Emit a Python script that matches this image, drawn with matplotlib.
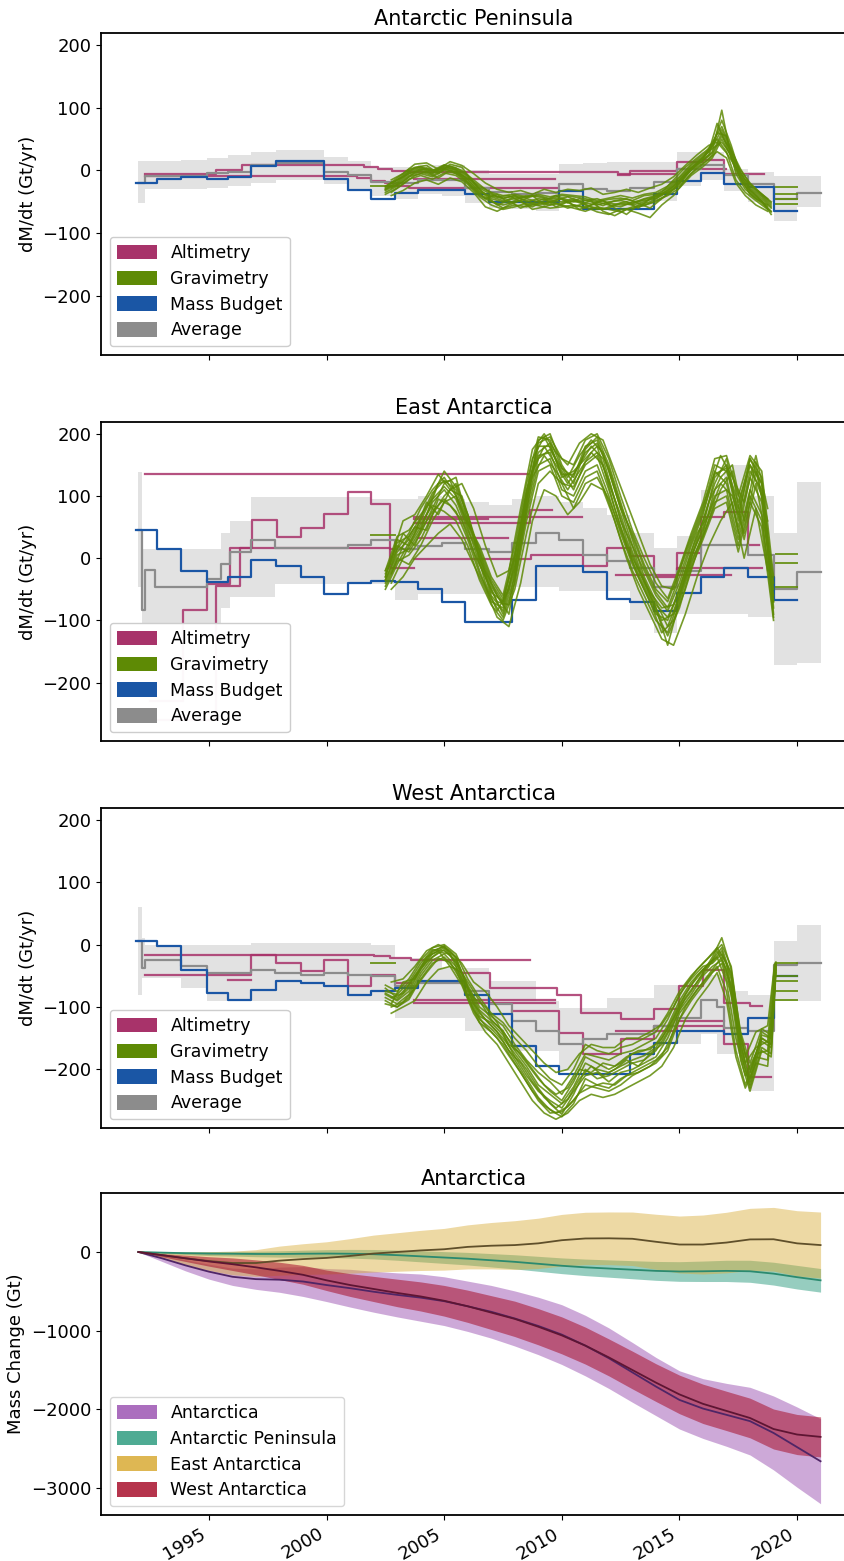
import numpy as np
import matplotlib
matplotlib.use("Agg")
import matplotlib.pyplot as plt
from matplotlib.patches import Patch

# ---------------------------------------------------------------- data
MB_T = [1991.9, 1992.8, 1993.8, 1994.9, 1995.8, 1996.8, 1997.85, 1998.9, 1999.9, 2000.9,
        2001.9, 2002.9, 2003.9, 2004.9, 2005.9, 2006.9, 2007.9, 2008.9, 2009.9, 2010.9,
        2011.9, 2012.9, 2013.9, 2014.9, 2015.9, 2016.9, 2017.9, 2019.0, 2020.0]
MB_AP = [-20, -13, -11, -13, -11, 7, 15, 15, -13, -31, -45, -36, -31, -31, -37, -50, -50, -50,
         -32, -62, -62, -62, -37, -16, -4, -21, -27, -64, -64]
MB_EA = [45, 14, -21, -39, -31, -3, -13, -31, -57, -40, -36, -39, -49, -71, -103, -103, -67,
         -12, -12, -23, -65, -71, -85, -56, -30, -15, -30, -67, -67]
MB_WA = [5, -3, -41, -77, -88, -72, -58, -61, -66, -80, -75, -70, -59, -59, -80, -112, -162,
         -194, -208, -208, -208, -176, -157, -139, -139, -144, -117, -51, -51]

# ---- Antarctic Peninsula (panel 1) ----
AVG_AP_T = [1992.0, 1992.3, 1993.8, 1994.9, 1995.8, 1996.8, 1997.85, 1999.9, 2000.9, 2001.9,
            2002.9, 2003.9, 2004.9, 2005.9, 2006.9, 2007.9, 2008.9, 2009.9, 2010.9, 2011.9,
            2012.9, 2013.9, 2014.9, 2015.9, 2016.9, 2017.9, 2019.0, 2020.0, 2021.0]
AVG_AP = [-20, -9, -9, -4, -2, 8, 12, -2, -8, -18, -20, -15, -15, -28, -35, -38, -36, -22, -30,
          -32, -28, -18, 2, 8, -8, -22, -45, -36, -36]
AVG_AP_HI = [15, 15, 17, 20, 25, 30, 32, 22, 15, 5, 5, 8, 8, 0, -5, -5, -5, 10, 12, 14, 14, 14,
             30, 30, 2, -2, -9, -9, -9]
AVG_AP_LO = [-52, -30, -30, -28, -25, -20, -15, -22, -30, -40, -45, -38, -40, -52, -60, -62,
             -65, -52, -60, -60, -58, -48, -25, -15, -32, -50, -81, -59, -59]

ALT_AP = [
    ([1992.3, 1995.3, 1996.4, 2001.6, 2002.2, 2002.8, 2003.5, 2012.4, 2014.9, 2016.0, 2016.9, 2018.6],
     [-6, 1, 8, 5, 2, -1, -3, -5, 13, 17, -6, -6]),
    ([1992.3, 2001.3, 2001.9, 2002.5, 2003.0, 2003.5, 2009.8],
     [-9, -12, -16, -20, -24, -28, -28]),
    ([2003.7, 2009.7], [-13, -13]),
    ([2012.4, 2012.9, 2014.9, 2017.0], [-8, -1, 3, 3]),
]

GRAV_T_AP = [2002.5, 2003.0, 2003.5, 2004.0, 2004.5, 2005.0, 2005.5, 2006.0, 2006.5, 2007.0,
             2007.5, 2008.0, 2008.5, 2009.0, 2009.5, 2010.0, 2010.5, 2011.0, 2011.5, 2012.0,
             2012.5, 2013.0, 2013.5, 2014.0, 2014.5, 2015.0, 2015.5, 2016.0, 2016.4, 2016.8,
             2017.2, 2017.6, 2018.0, 2018.5, 2018.9]
GRAV_AP = [
    [-30, -20, -5, 0, -5, 5, 0, -15, -35, -40, -45, -40, -50, -45, -48, -50, -45, -52, -55, -50,
     -48, -52, -45, -40, -35, -20, 0, 15, 30, 96, 20, -10, -30, -45, -60],
    [-28, -15, 0, 5, -2, 8, 2, -10, -30, -45, -50, -42, -48, -55, -50, -45, -55, -60, -50, -55,
     -58, -50, -48, -45, -30, -15, 5, 20, 45, 70, 35, -5, -25, -40, -55],
    [-35, -25, -10, -5, -10, 0, -5, -20, -40, -50, -55, -50, -45, -50, -55, -52, -48, -55, -62, -60,
     -52, -55, -50, -42, -35, -25, -5, 10, 25, 55, 30, -15, -35, -50, -65],
    [-25, -15, -5, 2, 0, 3, -3, -12, -25, -35, -40, -38, -42, -40, -45, -40, -42, -45, -50, -46,
     -44, -48, -40, -38, -28, -12, 8, 22, 35, 45, 25, 0, -20, -38, -50],
    [-32, -22, -8, -2, -8, 2, -2, -18, -38, -48, -60, -55, -58, -52, -50, -55, -60, -65, -58, -62,
     -66, -58, -55, -50, -38, -22, 2, 18, 40, 80, 40, -8, -32, -48, -70],
    [-30, -18, -2, 3, -4, 6, 1, -14, -33, -42, -48, -45, -40, -42, -46, -44, -50, -48, -45, -52,
     -55, -53, -46, -42, -32, -18, 4, 16, 28, 60, 28, -4, -28, -42, -58],
    [-38, -28, -14, -8, -14, -4, -8, -22, -42, -55, -62, -58, -52, -56, -60, -58, -55, -58, -66, -70,
     -62, -60, -56, -48, -40, -28, -8, 6, 20, 50, 22, -12, -38, -52, -66],
    [-26, -12, 2, 6, 0, 9, 4, -8, -28, -38, -44, -40, -44, -38, -42, -38, -40, -42, -48, -44,
     -40, -44, -38, -35, -25, -10, 10, 25, 38, 65, 32, 2, -22, -38, -52],
]
GRAV_T_AP_B = [2002.75, 2003.25, 2003.75, 2004.25, 2004.75, 2005.25, 2005.75, 2006.25, 2006.75,
               2007.25, 2007.75, 2008.25, 2008.75, 2009.25, 2009.75, 2010.25, 2010.75, 2011.25,
               2011.75, 2012.25, 2012.75, 2013.25, 2013.75, 2014.25, 2014.75, 2015.25, 2015.75,
               2016.25, 2016.6, 2017.0, 2017.4, 2017.8, 2018.25, 2018.75]
GRAV_AP_B = [
    [-20, -10, 5, 8, -5, 10, 5, -20, -40, -55, -48, -60, -52, -45, -58, -50, -62, -55, -48, -60,
     -70, -55, -50, -40, -25, -5, 12, 30, 75, 40, 0, -25, -40, -58],
    [-35, -22, -8, -2, -12, 0, -10, -28, -45, -38, -52, -44, -40, -55, -47, -42, -50, -58, -62, -54,
     -50, -60, -45, -35, -15, 5, 20, 35, 50, 30, -15, -35, -48, -62],
    [-28, -18, -3, 4, -2, 7, 0, -15, -30, -42, -40, -50, -58, -48, -40, -52, -45, -50, -56, -48,
     -45, -52, -60, -45, -30, -8, 10, 25, 60, 55, -5, -30, -45, -55],
    [-40, -32, -20, -15, -22, -12, -18, -35, -58, -65, -55, -48, -62, -58, -52, -60, -55, -48, -65,
     -72, -62, -68, -75, -55, -40, -15, 5, 18, 30, 20, -20, -40, -55, -65],
    [-15, -5, 10, 12, 2, 14, 8, -5, -20, -30, -35, -32, -38, -30, -35, -30, -32, -28, -38, -35,
     -30, -35, -28, -22, -10, 8, 25, 40, 45, 28, 5, -15, -30, -45],
]
GRAV_PRE_AP = [-24]
GRAV_FO_AP = [-27, -37, -45, -53]

# ---- East Antarctica (panel 2) ----
AVG_EA_T = [1992.0, 1992.15, 1992.3, 1992.7, 1994.9, 1995.5, 1995.9, 1996.8, 1997.8, 2000.9,
            2001.9, 2002.9, 2003.9, 2004.9, 2005.9, 2006.9, 2007.9, 2008.9, 2009.9, 2010.9,
            2011.9, 2012.9, 2013.9, 2014.9, 2015.9, 2016.9, 2017.9, 2019.0, 2020.0, 2021.0]
AVG_EA = [45, -84, -19, -46, -33, -10, 10, 30, 17, 22, 30, 15, 20, 25, 15, 10, 25, 41, 30, 5,
          -5, -15, -47, -20, 22, 22, 5, -49, -22, -22]
AVG_EA_HI = [139, 15, 15, 15, 15, 40, 60, 99, 99, 99, 95, 95, 100, 95, 90, 85, 95, 100, 90, 80,
             70, 40, 17, 35, 110, 150, 100, 40, 123, 123]
AVG_EA_LO = [-47, -105, -105, -105, -105, -80, -63, -63, -41, -41, -41, -68, -57, -57, -57, -57,
             -47, -47, -52, -52, -52, -100, -121, -90, -90, -90, -95, -171, -168, -168]

ALT_EA = [
    ([1992.3, 2008.55], [136, 136]),
    ([1992.5, 1993.9, 1994.9, 1995.9, 1996.85, 1997.9, 1998.9, 1999.9, 2000.9, 2001.9, 2002.7, 2003.7],
     [-230, -84, -41, 17, 62, 34, 49, 71, 106, 87, -15, -15]),
    ([1992.5, 1995.3, 1996.3, 2002.7, 2003.7], [-260, -45, 17, 14, 14]),
    ([2003.7, 2010.85], [67, 67]),
    ([2003.7, 2006.85], [63, 63]),
    ([2003.7, 2008.65, 2009.6], [57, 78, 78]),
    ([2003.9, 2007.7], [32, 32]),
    ([2003.7, 2008.7, 2009.6, 2010.9, 2011.9, 2012.9, 2013.9, 2014.9, 2015.9, 2016.9, 2017.9, 2018.4],
     [-2, 5, 5, -12, 17, 4, -31, 9, 67, 75, 21, 21]),
    ([2012.3, 2017.2], [-27, -27]),
    ([2013.9, 2014.9, 2018.5], [-47, -15, -15]),
]

GRAV_T_EA = [2002.5, 2003.0, 2003.5, 2004.0, 2004.5, 2005.0, 2005.5, 2006.0, 2006.5, 2007.0,
             2007.5, 2008.0, 2008.5, 2009.0, 2009.5, 2010.0, 2010.5, 2011.0, 2011.5, 2012.0,
             2012.5, 2013.0, 2013.5, 2014.0, 2014.5, 2015.0, 2015.5, 2016.0, 2016.5, 2017.0,
             2017.5, 2018.0, 2018.5, 2019.0]
GRAV_EA = [
    [-35, 10, 30, 60, 100, 140, 115, 70, 0, -60, -85, -20, 90, 190, 200, 150, 120, 175, 195, 150,
     90, 30, -30, -70, -110, -60, 0, 50, 130, 150, 60, 160, 120, -90],
    [-20, 20, 10, 40, 80, 120, 130, 60, 10, -40, -70, 10, 110, 170, 185, 130, 140, 160, 180, 120,
     70, 10, -40, -80, -140, -70, -10, 40, 110, 130, 40, 130, 90, -70],
    [-40, 0, -10, 20, 60, 90, 100, 50, -10, -50, -90, -30, 70, 150, 160, 110, 100, 140, 150, 100,
     40, -10, -50, -90, -100, -50, 10, 60, 120, 160, 70, 150, 100, -60],
    [-30, 30, 20, 50, 90, 110, 85, 40, -20, -70, -80, -10, 80, 160, 175, 140, 110, 155, 170, 125,
     60, 20, -20, -60, -85, -40, 20, 70, 140, 120, 50, 140, 110, -50],
    [-25, 15, 40, 80, 110, 130, 100, 55, 20, -30, -60, 20, 120, 195, 190, 145, 130, 180, 190, 140,
     80, 40, -10, -50, -70, -20, 30, 80, 150, 140, 80, 160, 130, -80],
    [-45, -5, 5, 30, 70, 100, 120, 70, 0, -45, -75, -15, 100, 165, 170, 120, 115, 150, 165, 110,
     50, 0, -35, -75, -95, -55, 5, 45, 100, 110, 30, 110, 70, -95],
    [-35, 5, 15, 45, 75, 95, 75, 30, -25, -65, -95, -40, 60, 140, 150, 100, 90, 130, 140, 90,
     30, -20, -60, -100, -120, -65, -5, 35, 90, 100, 20, 100, 60, -70],
    [-30, 25, 35, 65, 105, 125, 110, 60, 15, -35, -65, 5, 95, 180, 180, 135, 135, 170, 185, 145,
     85, 35, -15, -55, -80, -30, 25, 75, 135, 145, 90, 150, 120, -40],
    [-50, -10, 25, 55, 85, 75, 60, 20, -35, -75, -100, -50, 40, 120, 140, 120, 80, 120, 130, 95,
     45, -5, -45, -85, -125, -80, -15, 30, 80, 90, 10, 90, 50, -100],
    [-20, 35, 45, 70, 95, 115, 95, 45, 5, -55, -70, 0, 105, 185, 195, 160, 150, 190, 200, 160,
     100, 45, 0, -40, -65, -15, 40, 90, 160, 165, 100, 165, 140, -30],
]
GRAV_T_EA_B = [2002.75, 2003.25, 2003.75, 2004.25, 2004.75, 2005.25, 2005.75, 2006.25, 2006.75,
               2007.25, 2007.75, 2008.25, 2008.75, 2009.25, 2009.75, 2010.25, 2010.75, 2011.25,
               2011.75, 2012.25, 2012.75, 2013.25, 2013.75, 2014.25, 2014.75, 2015.25, 2015.75,
               2016.25, 2016.75, 2017.25, 2017.75, 2018.25, 2018.75]
GRAV_EA_B = [
    [-10, 40, 20, 70, 120, 125, 80, 30, -40, -85, -50, 50, 160, 195, 160, 130, 165, 190, 170, 110,
     50, -10, -60, -100, -90, -30, 30, 90, 130, 150, 60, 155, 40],
    [-40, 0, 40, 90, 70, 110, 100, 40, -20, -60, -90, 20, 130, 165, 140, 110, 140, 170, 150, 80,
     20, -30, -70, -120, -100, -50, 10, 60, 110, 140, 30, 120, 20],
    [-25, 20, 50, 45, 95, 85, 60, 10, -30, -70, -75, 30, 140, 180, 150, 120, 150, 180, 160, 95,
     30, -20, -55, -80, -75, -20, 40, 70, 120, 100, 40, 140, 60],
    [-50, -30, 0, 20, 40, 55, 30, -10, -50, -95, -110, -40, 60, 110, 100, 70, 90, 120, 110, 60,
     0, -50, -90, -130, -140, -90, -30, 20, 60, 90, 0, 80, -20],
    [0, 60, 70, 100, 135, 110, 120, 80, 20, -30, -20, 80, 175, 200, 170, 150, 185, 200, 190, 140,
     90, 40, -10, -45, -50, 10, 60, 110, 165, 130, 90, 165, 80],
]
GRAV_PRE_EA = [38]
GRAV_FO_EA = [6, -7, -47]

# ---- West Antarctica (panel 3) ----
AVG_WA_T = [1992.0, 1992.15, 1992.3, 1993.8, 1994.9, 1996.8, 1997.8, 1998.9, 1999.9, 2000.9,
            2001.9, 2002.9, 2003.9, 2004.9, 2005.9, 2006.9, 2007.9, 2008.9, 2009.9, 2010.9,
            2011.9, 2012.9, 2013.9, 2014.9, 2015.9, 2016.6, 2016.9, 2017.9, 2019.0, 2020.0, 2021.0]
AVG_WA = [5, -37, -25, -34, -45, -40, -45, -48, -45, -48, -50, -66, -61, -61, -74, -96, -122,
          -138, -159, -151, -143, -143, -130, -117, -88, -100, -133, -138, -32, -29, -29]
AVG_WA_HI = [61, 11, 0, 0, 0, 3, 3, 3, 3, 3, 0, -21, -21, -37, -37, -58, -58, -90, -101, -101,
             -85, -85, -64, -64, -48, -48, -75, -80, 5, 32, 32]
AVG_WA_LO = [-80, -53, -53, -69, -90, -90, -90, -90, -90, -90, -90, -117, -117, -117, -138, -138,
             -170, -170, -202, -202, -195, -186, -159, -159, -143, -175, -175, -234, -90, -90, -90]

ALT_WA = [
    ([1992.3, 2001.3, 2002.0, 2002.7, 2003.6, 2008.65], [-16, -16, -19, -22, -25, -25]),
    ([1992.3, 1996.8, 1997.85, 1998.9, 1999.9, 2000.9, 2001.9, 2002.9, 2003.6],
     [-48, -17, -29, -43, -24, -66, -48, -61, -61]),
    ([1995.8, 1996.8], [-57, -57]),
    ([2003.7, 2009.7], [-88, -88]),
    ([2003.7, 2009.7], [-93, -93]),
    ([2005.8, 2006.95, 2009.8, 2010.8, 2012.5, 2013.9, 2015.0, 2016.0, 2016.9, 2018.0, 2018.5],
     [-45, -70, -80, -109, -119, -103, -67, -40, -93, -99, -99]),
    ([2007.9, 2009.9, 2010.9, 2012.5, 2013.9, 2016.9, 2017.9, 2018.9],
     [-107, -141, -176, -152, -130, -160, -213, -213]),
    ([2012.3, 2014.9, 2016.9], [-139, -122, -122]),
]

GRAV_T_WA = [2002.5, 2003.0, 2003.5, 2004.0, 2004.5, 2005.0, 2005.5, 2006.0, 2006.5, 2007.0,
             2007.5, 2008.0, 2008.5, 2009.0, 2009.5, 2010.0, 2010.5, 2011.0, 2011.5, 2012.0,
             2012.5, 2013.0, 2013.5, 2014.0, 2014.5, 2015.0, 2015.5, 2016.0, 2016.4, 2016.8,
             2017.2, 2017.6, 2018.0, 2018.5, 2018.9, 2019.1]
GRAV_WA = [
    [-80, -90, -75, -40, -15, -5, -20, -70, -110, -130, -150, -175, -200, -230, -255, -272, -240,
     -200, -215, -210, -200, -190, -185, -170, -140, -100, -75, -45, -20, 11, -40, -150, -200,
     -150, -160, -30],
    [-70, -85, -65, -35, -10, -3, -30, -60, -90, -120, -140, -165, -190, -215, -235, -250, -220,
     -180, -190, -200, -190, -175, -170, -160, -130, -90, -60, -40, -25, -5, -50, -160, -215,
     -140, -150, -32],
    [-90, -100, -85, -50, -25, -15, -35, -80, -120, -135, -155, -185, -215, -245, -265, -276, -255,
     -215, -225, -230, -215, -205, -195, -185, -165, -110, -85, -60, -40, -20, -65, -170, -230,
     -165, -175, -35],
    [-75, -80, -60, -30, -8, -10, -25, -65, -100, -115, -130, -160, -185, -205, -220, -240, -210,
     -175, -180, -185, -175, -170, -160, -150, -120, -80, -55, -35, -30, -15, -45, -140, -190,
     -135, -145, -30],
    [-85, -95, -80, -45, -20, -8, -28, -75, -115, -125, -145, -180, -210, -235, -250, -262, -235,
     -210, -205, -220, -205, -200, -190, -180, -150, -105, -80, -50, -35, -25, -70, -175, -225,
     -155, -165, -40],
    [-65, -75, -55, -25, -5, 0, -15, -55, -85, -110, -125, -150, -170, -195, -215, -225, -200,
     -160, -170, -175, -165, -160, -150, -140, -110, -75, -50, -30, -15, 0, -35, -145, -205,
     -145, -150, -28],
    [-95, -100, -88, -55, -30, -20, -40, -85, -125, -140, -160, -190, -220, -250, -270, -268, -250,
     -225, -230, -235, -225, -210, -200, -190, -170, -120, -90, -65, -45, -30, -80, -185, -235,
     -170, -180, -45],
    [-78, -88, -70, -38, -12, -2, -22, -68, -105, -122, -138, -170, -195, -225, -240, -255, -228,
     -190, -200, -205, -195, -185, -178, -165, -135, -95, -65, -42, -28, -10, -55, -165, -220,
     -150, -160, -35],
]
GRAV_T_WA_B = [2002.75, 2003.25, 2003.75, 2004.25, 2004.75, 2005.25, 2005.75, 2006.25, 2006.75,
               2007.25, 2007.75, 2008.25, 2008.75, 2009.25, 2009.75, 2010.25, 2010.75, 2011.25,
               2011.75, 2012.25, 2012.75, 2013.25, 2013.75, 2014.25, 2014.75, 2015.25, 2015.75,
               2016.25, 2016.6, 2017.0, 2017.4, 2017.8, 2018.25, 2018.75, 2019.05]
GRAV_WA_B = [
    [-95, -60, -55, -20, -10, -35, -45, -95, -120, -140, -170, -190, -220, -245, -262, -248, -215,
     -195, -210, -200, -185, -195, -175, -160, -125, -85, -60, -35, -10, -40, -120, -190, -165,
     -155, -32],
    [-85, -78, -50, -28, -12, -15, -55, -85, -100, -125, -160, -175, -200, -225, -240, -230, -200,
     -205, -190, -195, -180, -170, -168, -150, -118, -80, -50, -30, -20, -60, -150, -210, -175,
     -170, -50],
    [-100, -92, -70, -45, -22, -28, -60, -105, -130, -150, -178, -205, -235, -258, -270, -260, -238,
     -228, -222, -225, -210, -205, -195, -178, -140, -100, -72, -50, -35, -75, -170, -225, -180,
     -185, -60],
    [-60, -55, -35, -10, 0, -10, -30, -60, -75, -100, -130, -150, -170, -190, -205, -200, -175,
     -160, -165, -165, -150, -150, -140, -128, -100, -65, -40, -20, -5, -30, -110, -180, -140,
     -130, -30],
    [-110, -100, -90, -60, -40, -35, -65, -110, -140, -160, -190, -220, -250, -270, -280, -270,
     -250, -240, -245, -240, -230, -220, -210, -195, -165, -120, -90, -65, -45, -90, -180, -230,
     -190, -195, -70],
]
GRAV_PRE_WA = [-29]
GRAV_FO_WA = [-30, -50, -59, -75, -88]

# ---- Antarctica cumulative (panel 4) ----
YEARS = [1992, 1993, 1994, 1995, 1996, 1997, 1998, 1999, 2000, 2001, 2002, 2003, 2004, 2005,
         2006, 2007, 2008, 2009, 2010, 2011, 2012, 2013, 2014, 2015, 2016, 2017, 2018, 2019,
         2020, 2021]
AIS = [0, -80, -170, -250, -315, -345, -352, -375, -420, -460, -505, -545, -580, -625, -690, -760,
       -845, -940, -1050, -1190, -1350, -1530, -1710, -1880, -1990, -2070, -2150, -2300, -2480, -2660]
AIS_ERR = [0, 40, 70, 95, 110, 130, 160, 190, 210, 240, 260, 280, 300, 310, 320, 335, 350, 365,
           380, 385, 385, 380, 370, 370, 380, 400, 430, 470, 510, 540]
APIS = [0, -8, -15, -20, -22, -25, -25, -22, -20, -22, -28, -40, -55, -70, -85, -105, -125, -150,
        -175, -195, -210, -225, -240, -248, -245, -240, -245, -275, -320, -360]
APIS_ERR = [0, 10, 18, 25, 30, 35, 40, 45, 50, 55, 60, 65, 70, 75, 80, 85, 90, 95, 100, 105, 110,
            115, 120, 125, 130, 135, 140, 145, 150, 150]
EAIS = [0, -40, -80, -115, -140, -140, -110, -90, -75, -50, -20, 0, 20, 35, 65, 80, 88, 110, 150,
        172, 174, 168, 130, 95, 95, 120, 160, 162, 110, 88]
EAIS_ERR = [0, 40, 80, 120, 150, 170, 185, 195, 205, 220, 235, 245, 255, 265, 280, 295, 310, 320,
            328, 333, 335, 340, 350, 362, 375, 385, 395, 405, 415, 420]
WAIS = [0, -40, -80, -120, -155, -195, -240, -290, -360, -420, -470, -520, -565, -620, -690, -770,
        -850, -950, -1060, -1190, -1340, -1500, -1660, -1810, -1930, -2020, -2110, -2250, -2320, -2350]
WAIS_ERR = [0, 20, 40, 60, 80, 95, 110, 120, 130, 145, 160, 175, 185, 195, 205, 215, 225, 230,
            235, 235, 235, 240, 240, 245, 250, 250, 252, 254, 255, 255]

XTICKS = [1995, 2000, 2005, 2010, 2015, 2020]

# ---------------------------------------------------------------- style
C_ALT = "#a8336a"
C_GRAV = "#5e8a05"
C_MB = "#1a56a5"
C_AVG = "#8c8c8c"
C_BAND = "#dddddd"

plt.rcParams["font.family"] = ["DejaVu Sans"]
plt.rcParams["font.size"] = 13

fig = plt.figure(figsize=(8.45, 15.61), dpi=100)
H = 1561.0
LEFT = 101 / 845.0
WIDTH = 1.002 - LEFT


def box(top, bottom):
    return [LEFT, 1 - bottom / H, WIDTH, (bottom - top) / H]


ax1 = fig.add_axes(box(33, 355))
ax2 = fig.add_axes(box(422, 741), sharex=ax1)
ax3 = fig.add_axes(box(808, 1128), sharex=ax1)
ax4 = fig.add_axes(box(1193, 1515), sharex=ax1)

XLIM = (1990.41, 2022.11)


def draw_rate_panel(ax, title, avg_t, avg, hi, lo, alts, mb, grav_sets, pre, fo):
    ax.fill_between(avg_t, lo, hi, step="post", color=C_BAND, alpha=0.85, lw=0, zorder=1)
    ax.plot(avg_t, avg, drawstyle="steps-post", color=C_AVG, lw=1.6, zorder=3)
    for t, v in alts:
        ax.plot(t, v, drawstyle="steps-post", color=C_ALT, lw=1.6, alpha=0.85, zorder=2)
    ax.plot(MB_T, mb, drawstyle="steps-post", color=C_MB, lw=1.6, zorder=3)
    for grav_t, gravs in grav_sets:
        for g in gravs:
            ax.plot(grav_t, g, color=C_GRAV, lw=1.2, alpha=0.85, zorder=4)
    for v in pre:
        ax.plot([2001.9, 2002.9], [v, v], color=C_GRAV, lw=1.4, alpha=0.85, zorder=4)
    for v in fo:
        ax.plot([2019.1, 2020.0], [v, v], color=C_GRAV, lw=1.4, alpha=0.85, zorder=4)
    ax.set_ylim(-294, 219)
    ax.set_yticks([-200, -100, 0, 100, 200])
    ax.set_ylabel("dM/dt (Gt/yr)")
    ax.set_title(title, fontsize=15)
    handles = [Patch(facecolor=C_ALT, label="Altimetry"),
               Patch(facecolor=C_GRAV, label="Gravimetry"),
               Patch(facecolor=C_MB, label="Mass Budget"),
               Patch(facecolor=C_AVG, label="Average")]
    leg = ax.legend(handles=handles, loc="lower left", fontsize=12.5, framealpha=0.97,
                    handlelength=2.3, handleheight=0.9, labelspacing=0.45)
    leg.set_zorder(10)


draw_rate_panel(ax1, "Antarctic Peninsula", AVG_AP_T, AVG_AP, AVG_AP_HI, AVG_AP_LO, ALT_AP,
                MB_AP, [(GRAV_T_AP, GRAV_AP), (GRAV_T_AP_B, GRAV_AP_B)], GRAV_PRE_AP, GRAV_FO_AP)
draw_rate_panel(ax2, "East Antarctica", AVG_EA_T, AVG_EA, AVG_EA_HI, AVG_EA_LO, ALT_EA,
                MB_EA, [(GRAV_T_EA, GRAV_EA), (GRAV_T_EA_B, GRAV_EA_B)], GRAV_PRE_EA, GRAV_FO_EA)
draw_rate_panel(ax3, "West Antarctica", AVG_WA_T, AVG_WA, AVG_WA_HI, AVG_WA_LO, ALT_WA,
                MB_WA, [(GRAV_T_WA, GRAV_WA), (GRAV_T_WA_B, GRAV_WA_B)], GRAV_PRE_WA, GRAV_FO_WA)

# ---- cumulative panel
regions = [
    ("Antarctica", AIS, AIS_ERR, "#9d55b3", 0.5, "#4f2566"),
    ("Antarctic Peninsula", APIS, APIS_ERR, "#2f9d80", 0.5, "#2b8a6f"),
    ("East Antarctica", EAIS, EAIS_ERR, "#d9ab35", 0.45, "#5f4f2a"),
    ("West Antarctica", WAIS, WAIS_ERR, "#a8102c", 0.55, "#5e1533"),
]
handles = []
for name, val, err, col, a, lcol in regions:
    v = np.asarray(val, dtype=float)
    e = np.asarray(err, dtype=float)
    ax4.fill_between(YEARS, v - e, v + e, color=col, alpha=a, lw=0)
    ax4.plot(YEARS, v, color=lcol, lw=1.3)
    handles.append(Patch(facecolor=col, alpha=0.85, label=name))
ax4.legend(handles=handles, loc="lower left", fontsize=12.5,
           handlelength=2.3, handleheight=0.9, labelspacing=0.45)
ax4.set_ylim(-3343, 750)
ax4.set_yticks([-3000, -2000, -1000, 0])
ax4.set_ylabel("Mass Change (Gt)")
ax4.set_title("Antarctica", fontsize=15)

for ax in (ax1, ax2, ax3, ax4):
    ax.set_xlim(*XLIM)
    ax.set_xticks(XTICKS)
    for s in ax.spines.values():
        s.set_linewidth(1.3)
for ax in (ax1, ax2, ax3):
    ax.tick_params(axis="x", labelbottom=False)
for lab in ax4.get_xticklabels():
    lab.set_rotation(30)
    lab.set_ha("right")

fig.savefig("out.png", dpi=100)
